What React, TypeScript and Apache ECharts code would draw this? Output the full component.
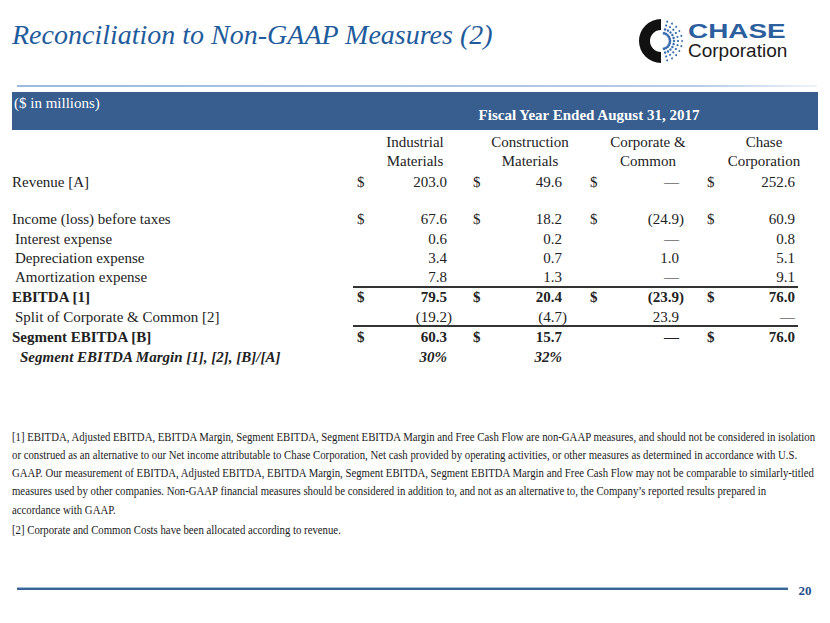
import React, { useEffect, useRef } from "react";
import * as echarts from "echarts";

// ---------- data ----------
const title = "Reconciliation to Non-GAAP Measures (2)";
const unitsLabel = "($ in millions)";
const periodLabel = "Fiscal Year Ended August 31, 2017";
const columns = ["Industrial\nMaterials", "Construction\nMaterials", "Corporate &\nCommon", "Chase\nCorporation"];

const rowLabels = [
  "Revenue [A]",
  "Income (loss) before taxes",
  "Interest expense",
  "Depreciation expense",
  "Amortization expense",
  "EBITDA [1]",
  "Split of Corporate & Common [2]",
  "Segment EBITDA [B]",
  "Segment EBITDA Margin [1], [2], [B]/[A]",
];
const revenue = [203.0, 49.6, null, 252.6];
const incomeBeforeTaxes = [67.6, 18.2, -24.9, 60.9];
const interestExpense = [0.6, 0.2, null, 0.8];
const depreciationExpense = [3.4, 0.7, 1.0, 5.1];
const amortizationExpense = [7.8, 1.3, null, 9.1];
const ebitda = [79.5, 20.4, -23.9, 76.0];
const splitCorporate = [-19.2, -4.7, 23.9, null];
const segmentEbitda = [60.3, 15.7, null, 76.0];
const segmentMarginPct = [30, 32, null, null];
const rowValues = [revenue, incomeBeforeTaxes, interestExpense, depreciationExpense, amortizationExpense, ebitda, splitCorporate, segmentEbitda, segmentMarginPct];
const rowDollar = [
  [1, 1, 1, 1],
  [1, 1, 1, 1],
  [0, 0, 0, 0],
  [0, 0, 0, 0],
  [0, 0, 0, 0],
  [1, 1, 1, 1],
  [0, 0, 0, 0],
  [1, 1, 0, 1],
  [0, 0, 0, 0],
];
const rowKind = ["normal", "normal", "normal", "normal", "normal", "bold", "normal", "bold", "pct"];
const rowIndent = [0, 0, 1, 1, 1, 0, 1, 0, 2];

const footnotes = [
  "[1] EBITDA, Adjusted EBITDA, EBITDA Margin, Segment EBITDA, Segment EBITDA Margin and Free Cash Flow are non-GAAP measures, and should not be considered in isolation",
  "or construed as an alternative to our Net income attributable to Chase Corporation, Net cash provided by operating activities, or other measures as determined in accordance with U.S.",
  "GAAP. Our measurement of EBITDA, Adjusted EBITDA, EBITDA Margin, Segment EBITDA, Segment EBITDA Margin and Free Cash Flow may not be comparable to similarly-titled",
  "measures used by other companies. Non-GAAP financial measures should be considered in addition to, and not as an alternative to, the Company\u2019s reported results prepared in",
  "accordance with GAAP.",
  "[2] Corporate and Common Costs have been allocated according to revenue.",
];
const pageNumber = "20";

// ---------- layout ----------
const SERIF = "'Liberation Serif', 'Times New Roman', serif";
const SANS = "'Liberation Sans', Arial, sans-serif";
const BLUE = "#375e8e";
const colDollarX = [357, 473, 590, 707];
const colRightX = [447, 562, 679, 795];
const colCenterX = [415, 530, 648, 764];
const rowY = [182, 219, 239, 258, 277, 297, 317, 337, 357];
const indentX = [12, 15, 20];
const footY = [437, 455, 473, 491, 510, 530];

function fmt(v: number | null): string {
  if (v === null || v === undefined) return "\u2014";
  if (v < 0) return "(" + Math.abs(v).toFixed(1) + ")";
  return v.toFixed(1);
}

function txt(x: number, y: number, text: string, opts: any = {}) {
  const align = opts.align || "left";
  const va = opts.va || "middle";
  return {
    type: "text",
    x,
    y,
    scaleX: opts.scaleX || 1,
    silent: true,
    style: {
      text,
      fontFamily: opts.family || SERIF,
      fontSize: opts.size || 15,
      fontWeight: opts.weight || "normal",
      fontStyle: opts.style || "normal",
      fill: opts.fill || "#222",
      align,
      textAlign: align,
      verticalAlign: va,
      textVerticalAlign: va,
    },
  };
}

function measure(text: string, font: string): number {
  const c = document.createElement("canvas").getContext("2d");
  if (!c) return 0;
  c.font = font;
  return c.measureText(text).width;
}

function buildElements(): any[] {
  const els: any[] = [];
  // title
  els.push(txt(12, 34, title, { size: 28, style: "italic", fill: "#1f5c9c" }));
  // logo
  els.push({
    type: "sector",
    silent: true,
    shape: { cx: 661, cy: 41, r0: 11, r: 22, startAngle: Math.PI / 2, endAngle: (3 * Math.PI) / 2, clockwise: true },
    style: { fill: "#111" },
  });
  for (let a = -75; a <= 75; a += 15) {
    const rad = (a * Math.PI) / 180;
    [8, 12, 16, 20].forEach((rr, k) => {
      els.push({
        type: "circle",
        silent: true,
        shape: { cx: 662 + rr * Math.cos(rad), cy: 41 + rr * Math.sin(rad), r: 1.4 - k * 0.15 },
        style: { fill: "#3a6fb0" },
      });
    });
  }
  els.push(txt(688, 31, "CHASE", { family: SANS, size: 21, weight: "bold", fill: "#2c5f9e", scaleX: 1.33 }));
  els.push(txt(688, 50, "Corporation", { family: SANS, size: 19, fill: "#1a1a1a" }));

  // top rule
  els.push({
    type: "rect",
    silent: true,
    shape: { x: 17, y: 85, width: 800, height: 2 },
    style: {
      fill: new echarts.graphic.LinearGradient(0, 0, 1, 0, [
        { offset: 0, color: "#9dbbe0" },
        { offset: 0.85, color: "#b5cce8" },
        { offset: 1, color: "#eef3fa" },
      ]),
    },
  });

  // header bar
  els.push({ type: "rect", silent: true, shape: { x: 12, y: 92, width: 806, height: 38 }, style: { fill: BLUE } });
  els.push(txt(14, 103, unitsLabel, { size: 15, fill: "#ffffff" }));
  els.push(txt(589, 115, periodLabel, { size: 15, weight: "bold", fill: "#ffffff", align: "center" }));

  // column headers
  columns.forEach((c, i) => {
    const parts = c.split("\n");
    parts.forEach((p, j) => els.push(txt(colCenterX[i], 142 + j * 19, p, { size: 15, align: "center" })));
  });

  // rows
  rowLabels.forEach((label, r) => {
    const kind = rowKind[r];
    const weight = kind === "normal" ? "normal" : "bold";
    const fstyle = kind === "pct" ? "italic" : "normal";
    const y = rowY[r];
    els.push(txt(indentX[rowIndent[r]], y, label, { size: 15, weight, style: fstyle }));
    const vals = rowValues[r];
    vals.forEach((v, c) => {
      if (rowDollar[r][c]) els.push(txt(colDollarX[c], y, "$", { size: 15, weight }));
      if (kind === "pct") {
        if (v !== null) els.push(txt(colRightX[c], y, v + "%", { size: 15, weight, style: fstyle, align: "right" }));
        return;
      }
      const neg = v !== null && v < 0;
      els.push(txt(colRightX[c] + (neg ? 5 : 0), y, fmt(v), { size: 15, weight, align: "right" }));
    });
  });

  // total rules
  [287, 326].forEach((y) => {
    els.push({ type: "rect", silent: true, shape: { x: 353, y: y - 1, width: 445, height: 2 }, style: { fill: "#333" } });
  });

  // footnotes
  const fSize = 12.5;
  const w1 = measure(footnotes[0], `${fSize}px 'Liberation Serif'`);
  const sx = w1 > 0 ? 806 / w1 : 0.9;
  footnotes.forEach((f, i) => els.push(txt(12, footY[i], f, { size: fSize, scaleX: sx, fill: "#1a1a1a" })));

  // bottom rule and page number
  els.push({ type: "rect", silent: true, shape: { x: 17, y: 588, width: 771, height: 2 }, style: { fill: "#3b6597" } });
  els.push({ type: "rect", silent: true, shape: { x: 17, y: 587, width: 771, height: 1 }, style: { fill: "#9fbadb" } });
  els.push(txt(805, 590, pageNumber, { size: 13, weight: "bold", fill: "#1f4e88", align: "center" }));
  return els;
}

export default function App() {
  const ref = useRef<HTMLDivElement>(null);
  useEffect(() => {
    if (!ref.current) return;
    const chart = echarts.init(ref.current, null, { renderer: "svg" });
    chart.setOption({
      animation: false,
      backgroundColor: "#ffffff",
      graphic: { elements: buildElements() },
    });
    return () => chart.dispose();
  }, []);
  return <div ref={ref} style={{ position: "fixed", left: 0, top: 0, width: 830, height: 623 }} />;
}
